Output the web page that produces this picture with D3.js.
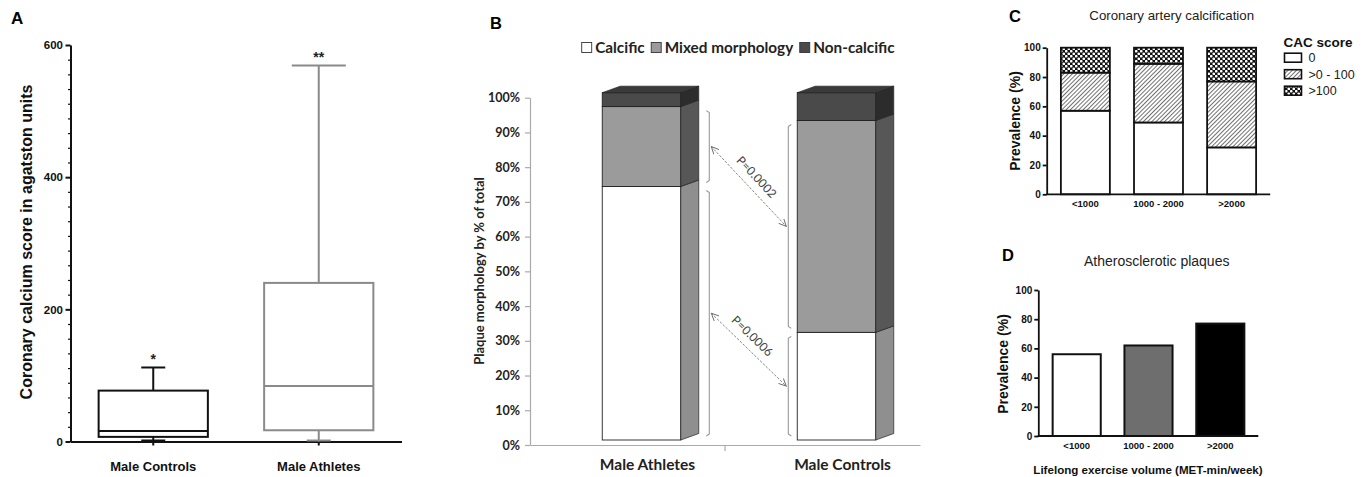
<!DOCTYPE html>
<html><head><meta charset="utf-8">
<script src="https://cdn.jsdelivr.net/npm/d3@7"></script>
<style>body{margin:0;background:#fff} svg{display:block}</style>
</head><body>
<svg id="fig" width="1368" height="477"></svg>
<script>
// ---------- Panel A : box plot ----------
const aCategories = ["Male Controls", "Male Athletes"];
const aMin = [0, 0];
const aQ1 = [7, 17];
const aMedian = [16, 84];
const aQ3 = [77, 240];
const aMax = [112, 569];
const aSignif = ["*", "**"];
const aTicks = [0, 200, 400, 600];

// ---------- Panel B : stacked 3D columns ----------
const bCategories = ["Male Athletes", "Male Controls"];
const bSeries = ["Calcific", "Mixed morphology", "Non-calcific"];
const bCalcific = [73, 31];
const bMixed = [23, 61];
const bNonCalcific = [4, 8];
const bTicks = [0, 10, 20, 30, 40, 50, 60, 70, 80, 90, 100];
const bPValues = ["P=0.0002", "P=0.0006"]; // [mixed, calcific]

// ---------- Panel C : stacked CAC score ----------
const cCategories = ["<1000", "1000 - 2000", ">2000"];
const cSeries = ["0", ">0 - 100", ">100"];
const cZero = [57, 49, 32];
const cLow = [26, 40, 45];
const cHigh = [17, 11, 23];
const cTicks = [0, 20, 40, 60, 80, 100];

// ---------- Panel D : plaques ----------
const dCategories = ["<1000", "1000 - 2000", ">2000"];
const dPrevalence = [56, 62, 77];
const dTicks = [0, 20, 40, 60, 80, 100];

const ARIAL = "'Liberation Sans', Arial, sans-serif";
const CAL = "Lato, 'Open Sans', sans-serif";
const svg = d3.select("#fig");

// patterns
const defs = svg.append("defs");
const hp = defs.append("pattern").attr("id", "hatch").attr("patternUnits", "userSpaceOnUse")
  .attr("width", 3).attr("height", 3).attr("patternTransform", "rotate(45)");
hp.append("rect").attr("width", 3).attr("height", 3).attr("fill", "#fff");
hp.append("line").attr("x1", 0).attr("y1", 0).attr("x2", 0).attr("y2", 3).attr("stroke", "#333").attr("stroke-width", 1.4);
const cp = defs.append("pattern").attr("id", "cross").attr("patternUnits", "userSpaceOnUse")
  .attr("width", 5).attr("height", 5);
cp.append("rect").attr("width", 5).attr("height", 5).attr("fill", "#111");
cp.append("circle").attr("cx", 1.25).attr("cy", 1.25).attr("r", 1.35).attr("fill", "#fff");
cp.append("circle").attr("cx", 3.75).attr("cy", 3.75).attr("r", 1.35).attr("fill", "#fff");
const mk = defs.append("marker").attr("id", "arr").attr("viewBox", "0 0 8 8").attr("refX", 7.5).attr("refY", 4)
  .attr("markerWidth", 8).attr("markerHeight", 8).attr("markerUnits", "userSpaceOnUse").attr("orient", "auto-start-reverse");
mk.append("path").attr("d", "M0,0.5 L7.5,4 L0,7.5").attr("fill", "none").attr("stroke", "#666").attr("stroke-width", 0.9);

function styleAxis(g, color, width, font, size, weight) {
  g.selectAll("path,line").attr("stroke", color).attr("stroke-width", width);
  g.selectAll("text").attr("font-family", font).attr("font-size", size).attr("font-weight", weight).attr("fill", "#111");
}

// ================= Panel A =================
(function () {
  const g = svg.append("g");
  const x = d3.scaleBand().domain(aCategories).range([70.5, 401.5]).paddingInner(0.34).paddingOuter(0.17);
  const y = d3.scaleLinear().domain([0, 600]).range([441.5, 45]);
  g.append("text").attr("x", 11).attr("y", 24).text("A").attr("font-family", ARIAL).attr("font-weight", "bold").attr("font-size", 17);

  const minor = d3.range(0, 600, 200 / 9).filter((v, i) => i % 9 !== 0);
  const gm = g.append("g").attr("transform", "translate(70.5,0)").call(d3.axisLeft(y).tickValues(minor).tickSize(2.5).tickFormat(""));
  gm.select(".domain").remove();
  styleAxis(gm, "#111", 1.2, ARIAL, 11, "bold");
  const gy = g.append("g").attr("transform", "translate(70.5,0)").call(d3.axisLeft(y).tickValues(aTicks).tickSize(5).tickSizeOuter(0).tickPadding(2.5));
  styleAxis(gy, "#111", 2, ARIAL, 11.5, "bold");
  const gx = g.append("g").attr("transform", "translate(0,441.5)").call(d3.axisBottom(x).tickSize(4).tickSizeOuter(0).tickPadding(16));
  styleAxis(gx, "#111", 2, ARIAL, 13, "bold");
  g.append("text").attr("transform", "translate(32,242) rotate(-90)").attr("text-anchor", "middle")
    .attr("font-family", ARIAL).attr("font-weight", "bold").attr("font-size", 16).attr("fill", "#111")
    .text("Coronary calcium score in agatston units");

  const colors = ["#111", "#8a8a8a"];
  const capHalf = [12, 27];
  aCategories.forEach((c, i) => {
    const x0 = x(c), bw = x.bandwidth(), cx = x0 + bw / 2;
    const bg = g.append("g").attr("stroke", colors[i]).attr("stroke-width", 2).attr("fill", "none");
    bg.append("line").attr("x1", cx).attr("x2", cx).attr("y1", y(aQ3[i])).attr("y2", y(aMax[i]));
    bg.append("line").attr("x1", cx - capHalf[i]).attr("x2", cx + capHalf[i]).attr("y1", y(aMax[i])).attr("y2", y(aMax[i]));
    bg.append("line").attr("x1", cx).attr("x2", cx).attr("y1", y(aQ1[i])).attr("y2", y(aMin[i]));
    bg.append("line").attr("x1", cx - 12).attr("x2", cx + 12).attr("y1", y(aMin[i]) - 1).attr("y2", y(aMin[i]) - 1);
    bg.append("rect").attr("x", x0).attr("width", bw).attr("y", y(aQ3[i])).attr("height", y(aQ1[i]) - y(aQ3[i])).attr("fill", "#fff");
    bg.append("line").attr("x1", x0).attr("x2", x0 + bw).attr("y1", y(aMedian[i])).attr("y2", y(aMedian[i]));
    g.append("text").attr("x", cx).attr("y", y(aMax[i]) - 3).attr("text-anchor", "middle")
      .attr("font-family", ARIAL).attr("font-weight", "bold").attr("font-size", 14).attr("fill", "#222").text(aSignif[i]);
  });
})();

// ================= Panel B =================
(function () {
  const g = svg.append("g");
  const x = d3.scaleBand().domain(bCategories).range([530, 920]);
  const y = d3.scaleLinear().domain([0, 100]).range([445, 97.7]);
  const floor = 5, dx = 18, dy = -6.5, faceShift = 14, faceW = 78.5;
  g.append("text").attr("x", 490).attr("y", 29).text("B").attr("font-family", ARIAL).attr("font-weight", "bold").attr("font-size", 16.5);

  const gy = g.append("g").attr("transform", "translate(530,0)")
    .call(d3.axisLeft(y).tickValues(bTicks).tickFormat(d => d + "%").tickSize(5).tickSizeOuter(0).tickPadding(5));
  styleAxis(gy, "#aaa", 1.2, CAL, 12.5, "bold");
  gy.selectAll("text").attr("fill", "#222");
  const gx = g.append("g").attr("transform", "translate(0,445)").call(d3.axisBottom(x).tickSize(0).tickSizeOuter(0).tickFormat(""));
  styleAxis(gx, "#aaa", 1.2, CAL, 12, "bold");
  gx.append("line").attr("x1", x(bCategories[1])).attr("x2", x(bCategories[1])).attr("y1", 0).attr("y2", 6).attr("stroke", "#aaa").attr("stroke-width", 1.2);
  bCategories.forEach(c => {
    g.append("text").attr("x", x(c) + x.bandwidth() / 2 + 20).attr("y", 470).attr("text-anchor", "middle")
      .attr("font-family", CAL).attr("font-weight", "bold").attr("font-size", 15.5).attr("fill", "#222").text(c);
  });
  g.append("text").attr("transform", "translate(484,271) rotate(-90)").attr("text-anchor", "middle")
    .attr("font-family", CAL).attr("font-weight", "bold").attr("font-size", 13).attr("fill", "#222")
    .text("Plaque morphology by % of total");

  const front = ["#ffffff", "#9b9b9b", "#4a4a4a"];
  const side = ["#8f8f8f", "#575757", "#2c2c2c"];
  const seriesVals = [bCalcific, bMixed, bNonCalcific];
  bCategories.forEach((c, i) => {
    const x0 = x(c) + x.bandwidth() / 2 + faceShift - faceW / 2, x1 = x0 + faceW;
    let cum = 0;
    seriesVals.forEach((arr, s) => {
      const yb = y(cum) - floor, yt = y(cum + arr[i]) - floor;
      cum += arr[i];
      g.append("rect").attr("x", x0).attr("y", yt).attr("width", faceW).attr("height", yb - yt)
        .attr("fill", front[s]).attr("stroke", "#222").attr("stroke-width", 0.9);
      g.append("path").attr("d", `M${x1},${yb}L${x1 + dx},${yb + dy}L${x1 + dx},${yt + dy}L${x1},${yt}Z`)
        .attr("fill", side[s]).attr("stroke", "#222").attr("stroke-width", 0.7);
    });
    const yt = y(cum) - floor;
    g.append("path").attr("d", `M${x0},${yt}L${x1},${yt}L${x1 + dx},${yt + dy}L${x0 + dx},${yt + dy}Z`)
      .attr("fill", "#3a3a3a").attr("stroke", "#222").attr("stroke-width", 0.7);
  });

  // legend
  let lx = 581.7;
  const lg = g.append("g");
  bSeries.forEach((s, k) => {
    lg.append("rect").attr("x", lx).attr("y", 42.5).attr("width", 10).attr("height", 10)
      .attr("fill", front[k]).attr("stroke", "#333").attr("stroke-width", 0.9);
    const t = lg.append("text").attr("x", lx + 13.5).attr("y", 53).attr("font-family", CAL).attr("font-weight", "bold")
      .attr("font-size", 15.3).attr("fill", "#222").text(s);
    lx += 13.5 + t.node().getComputedTextLength() + 6.5;
  });

  // brackets and arrows
  const bxA = 709.3, bxC = 788.3, ins = 4;
  function seg(lo, hi) { return [y(lo) - floor - ins, y(hi) - floor + ins]; }
  const aCal = seg(0, bCalcific[0]), aMix = seg(bCalcific[0], bCalcific[0] + bMixed[0]);
  const cCal = seg(0, bCalcific[1]), cMix = seg(bCalcific[1], bCalcific[1] + bMixed[1]);
  function bracket(xp, s, dir) {
    g.append("path").attr("d", `M${xp + dir * 3},${s[0]}L${xp},${s[0] - 2}L${xp},${s[1] + 2}L${xp + dir * 3},${s[1]}`)
      .attr("fill", "none").attr("stroke", "#999").attr("stroke-width", 1.1);
  }
  bracket(bxA, aCal, -1); bracket(bxA, aMix, -1);
  bracket(bxC, cCal, 1); bracket(bxC, cMix, 1);
  const pairs = [[aMix, cMix, bPValues[0], -1.5], [aCal, cCal, bPValues[1], -7]];
  pairs.forEach(([sa, sc, lab, along]) => {
    const xa = bxA + 2, ya = (sa[0] + sa[1]) / 2, xc = bxC - 2, yc = (sc[0] + sc[1]) / 2;
    g.append("line").attr("x1", xa).attr("y1", ya).attr("x2", xc).attr("y2", yc)
      .attr("stroke", "#777").attr("stroke-width", 0.9).attr("stroke-dasharray", "2.5,1.5")
      .attr("marker-start", "url(#arr)").attr("marker-end", "url(#arr)");
    const ang = Math.atan2(yc - ya, xc - xa) * 180 / Math.PI;
    g.append("text").attr("transform", `translate(${(xa + xc) / 2},${(ya + yc) / 2}) rotate(${ang})`)
      .attr("x", along).attr("y", -8).attr("text-anchor", "middle")
      .attr("font-family", CAL).attr("font-size", 12).attr("fill", "#444").text(lab);
  });
})();

// ================= Panel C =================
(function () {
  const g = svg.append("g");
  const x = d3.scaleBand().domain(cCategories).range([1047, 1270]).paddingInner(0.33).paddingOuter(0.19);
  const y = d3.scaleLinear().domain([0, 100]).range([194.3, 47.7]);
  g.append("text").attr("x", 1009).attr("y", 22).text("C").attr("font-family", ARIAL).attr("font-weight", "bold").attr("font-size", 16.5);
  g.append("text").attr("x", 1171.7).attr("y", 20).attr("text-anchor", "middle").attr("font-family", ARIAL)
    .attr("font-size", 13.3).attr("fill", "#222").text("Coronary artery calcification");

  const stack = [cZero, cLow, cHigh];
  const fills = ["#fff", "url(#hatch)", "url(#cross)"];
  cCategories.forEach((c, i) => {
    let cum = 0;
    stack.forEach((arr, s) => {
      g.append("rect").attr("x", x(c)).attr("width", x.bandwidth()).attr("y", y(cum + arr[i])).attr("height", y(cum) - y(cum + arr[i]))
        .attr("fill", fills[s]).attr("stroke", "#111").attr("stroke-width", 1.8);
      cum += arr[i];
    });
  });
  const gy = g.append("g").attr("transform", "translate(1046.7,0)").call(d3.axisLeft(y).tickValues(cTicks).tickSize(4).tickSizeOuter(0).tickPadding(2));
  styleAxis(gy, "#111", 1.8, ARIAL, 10, "bold");
  const gx = g.append("g").attr("transform", "translate(0,194.3)").call(d3.axisBottom(x).tickSize(0).tickSizeOuter(0).tickPadding(6));
  gx.select(".domain").attr("d", "M-0.5,0H223.5").attr("transform", "translate(1046.7,0)");
  styleAxis(gx, "#111", 1.8, ARIAL, 9.5, "bold");
  g.append("text").attr("transform", "translate(1020,121) rotate(-90)").attr("text-anchor", "middle")
    .attr("font-family", ARIAL).attr("font-weight", "bold").attr("font-size", 14).attr("fill", "#111").text("Prevalence (%)");

  // legend
  g.append("text").attr("x", 1283.5).attr("y", 46.5).attr("font-family", ARIAL).attr("font-weight", "bold")
    .attr("font-size", 13.5).attr("fill", "#111").text("CAC score");
  cSeries.forEach((s, k) => {
    const cy = 57.7 + k * 16.5;
    g.append("rect").attr("x", 1284.5).attr("y", cy - 4.5).attr("width", 17).attr("height", 9)
      .attr("fill", fills[k]).attr("stroke", "#111").attr("stroke-width", 1.6);
    g.append("text").attr("x", 1308.5).attr("y", cy + 4.5).attr("font-family", ARIAL).attr("font-size", 12.5)
      .attr("fill", "#222").text(s);
  });
})();

// ================= Panel D =================
(function () {
  const g = svg.append("g");
  const x = d3.scaleBand().domain(dCategories).range([1039, 1258]).paddingInner(0.33).paddingOuter(0.19);
  const y = d3.scaleLinear().domain([0, 100]).range([436, 290]);
  g.append("text").attr("x", 1002).attr("y", 261).text("D").attr("font-family", ARIAL).attr("font-weight", "bold").attr("font-size", 16.5);
  g.append("text").attr("x", 1156.7).attr("y", 265.5).attr("text-anchor", "middle").attr("font-family", ARIAL)
    .attr("font-size", 14).attr("fill", "#222").text("Atherosclerotic plaques");
  const fills = ["#ffffff", "#6e6e6e", "#000000"];
  dCategories.forEach((c, i) => {
    g.append("rect").attr("x", x(c)).attr("width", x.bandwidth()).attr("y", y(dPrevalence[i])).attr("height", y(0) - y(dPrevalence[i]))
      .attr("fill", fills[i]).attr("stroke", "#111").attr("stroke-width", 2);
  });
  const gy = g.append("g").attr("transform", "translate(1038.3,0)").call(d3.axisLeft(y).tickValues(dTicks).tickSize(4).tickSizeOuter(0).tickPadding(2));
  styleAxis(gy, "#111", 1.8, ARIAL, 10, "bold");
  const gx = g.append("g").attr("transform", "translate(0,436)").call(d3.axisBottom(x).tickSize(0).tickSizeOuter(0).tickPadding(6));
  gx.select(".domain").attr("d", "M-0.5,0H220").attr("transform", "translate(1038.3,0)");
  styleAxis(gx, "#111", 1.8, ARIAL, 9.5, "bold");
  g.append("text").attr("transform", "translate(1008,364) rotate(-90)").attr("text-anchor", "middle")
    .attr("font-family", ARIAL).attr("font-weight", "bold").attr("font-size", 14).attr("fill", "#111").text("Prevalence (%)");
  g.append("text").attr("x", 1148).attr("y", 473.5).attr("text-anchor", "middle").attr("font-family", ARIAL)
    .attr("font-weight", "bold").attr("font-size", 11.6).attr("fill", "#111").text("Lifelong exercise volume (MET-min/week)");
})();
</script>
</body></html>
